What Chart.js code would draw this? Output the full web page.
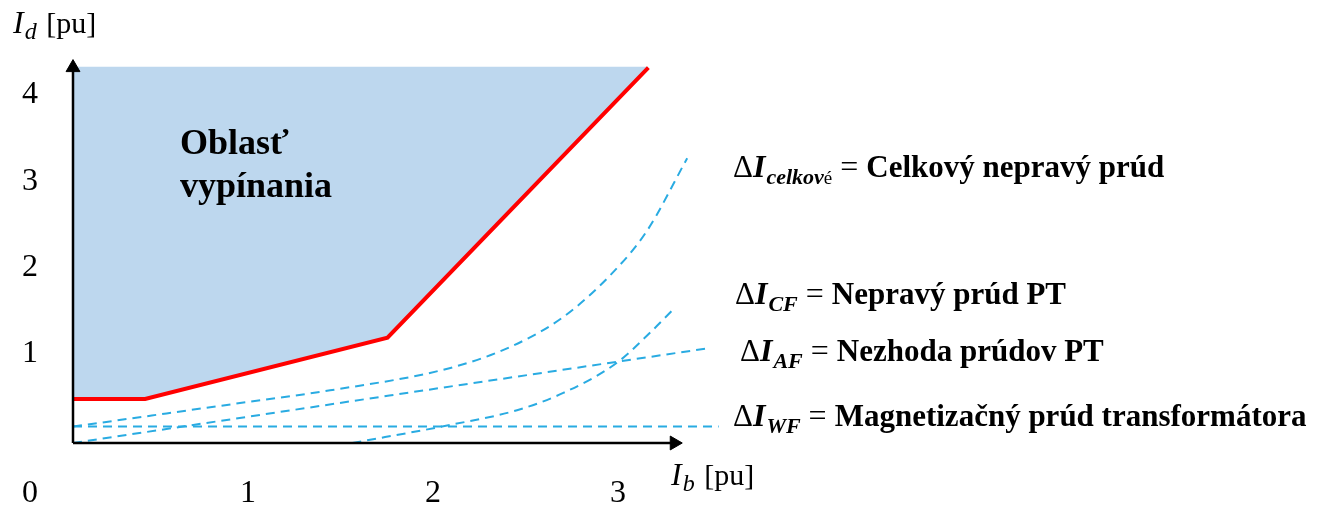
<!DOCTYPE html>
<html>
<head>
<meta charset="utf-8">
<script src="https://cdn.jsdelivr.net/npm/chart.js@4.4.1/dist/chart.umd.min.js"></script>
<style>
  html, body { margin: 0; padding: 0; background: #fff; }
  #wrap { width: 1317px; height: 509px; position: relative; }
</style>
</head>
<body>
<div id="wrap"><canvas id="chart"></canvas></div>
<script>
// tick labels
const xTicks = [1, 2, 3];
const yTicks = [1, 2, 3, 4];

// trip characteristic (Ib -> Id)
const tripX = [0, 0.39, 1.70, 3.11];
const tripY = [0.51, 0.51, 1.22, 4.35];
const tripTop = 4.36;

// false differential currents
const wfX = [0, 3.49];
const wfY = [0.19, 0.19];
const afX = [0, 1.71, 3.44];
const afY = [0, 0.55, 1.10];
const cfX = [1.51, 2.04, 2.40, 2.65, 2.94, 3.12, 3.25];
const cfY = [0, 0.21, 0.38, 0.58, 0.93, 1.28, 1.56];
const totalX = [0, 0.96, 1.39, 2.04, 2.36, 2.65, 2.92, 3.10, 3.32];
const totalY = [0.19, 0.48, 0.61, 0.87, 1.11, 1.46, 1.98, 2.45, 3.30];

// axis arrow ends
const xAxisEnd = 3.25;
const yAxisEnd = 4.35;

// right hand side legend
const legendSubs = ['celkov', 'CF', 'AF', 'WF'];
const legendTexts = ['Celkový nepravý prúd', 'Nepravý prúd PT', 'Nezhoda prúdov PT', 'Magnetizačný prúd transformátora'];

const SERIF = '"Liberation Serif", "Times New Roman", serif';
const BLUE = '#29ABE2';

const pts = (xs, ys) => xs.map((v, i) => ({ x: v, y: ys[i] }));

// draws a sequence of differently styled text pieces one after another
function drawRuns(ctx, x, y, runs) {
  let cx = x;
  runs.forEach(r => {
    ctx.font = r.font;
    ctx.fillText(r.t, cx, y + (r.dy || 0));
    cx += ctx.measureText(r.t).width + (r.gap || 0);
  });
}

const textPlugin = {
  id: 'texts',
  afterDatasetsDraw(chart) {
    const { ctx, scales: { x, y } } = chart;
    const x0 = x.getPixelForValue(0);
    const y0 = y.getPixelForValue(0);
    ctx.save();
    ctx.fillStyle = '#000';

    // tick numbers
    ctx.font = '32px ' + SERIF;
    ctx.textAlign = 'center';
    ctx.textBaseline = 'middle';
    xTicks.forEach(v => ctx.fillText(String(v), x.getPixelForValue(v) - 10, y0 + 51));
    yTicks.forEach(v => ctx.fillText(String(v), x0 - 43, y.getPixelForValue(v) - 3));
    ctx.fillText('0', x0 - 43, y0 + 51);

    ctx.textAlign = 'left';
    ctx.textBaseline = 'alphabetic';

    // axis titles
    const axisTitle = (px, py, sub) => drawRuns(ctx, px, py, [
      { t: 'I', font: 'italic 32px ' + SERIF, gap: 1 },
      { t: sub, font: 'italic 24px ' + SERIF, dy: 6, gap: 2 },
      { t: ' [pu]', font: '30px ' + SERIF }
    ]);
    axisTitle(13, 33, 'd');
    axisTitle(671, 485, 'b');

    // region caption
    ctx.font = 'bold 36px ' + SERIF;
    ctx.fillText('Oblasť', 180, 154);
    ctx.fillText('vypínania', 180, 197);

    // legend lines
    const rows = [
      { x: 733, y: 177 },
      { x: 735, y: 304 },
      { x: 740, y: 361 },
      { x: 733, y: 426 }
    ];
    rows.forEach((p, i) => {
      const runs = [
        { t: 'Δ', font: '31px ' + SERIF },
        { t: 'I', font: 'bold italic 32px ' + SERIF, gap: 1 },
        { t: legendSubs[i], font: 'bold italic 22px ' + SERIF, dy: 7 }
      ];
      if (i === 0) runs.push({ t: 'é', font: '19px ' + SERIF, dy: 7 });
      runs.push({ t: ' = ', font: '32px ' + SERIF });
      runs.push({ t: legendTexts[i], font: 'bold 31px ' + SERIF });
      drawRuns(ctx, p.x, p.y, runs);
    });
    ctx.restore();
  }
};

const dashed = (xs, ys, mono) => ({
  data: pts(xs, ys),
  borderColor: BLUE,
  borderWidth: 2,
  borderDash: [9, 6],
  pointRadius: 0,
  cubicInterpolationMode: mono ? 'monotone' : 'default',
  tension: 0,
  fill: false,
  clip: false,
  order: 2
});

const axisLine = (end, rot) => ({
  data: end,
  borderColor: '#000',
  borderWidth: 2.5,
  pointRadius: [0, 8],
  pointStyle: 'triangle',
  pointRotation: rot,
  pointBackgroundColor: '#000',
  pointBorderColor: '#000',
  pointBorderWidth: 1,
  fill: false,
  clip: false,
  order: 0
});

new Chart(document.getElementById('chart'), {
  type: 'line',
  data: {
    datasets: [
      axisLine([{ x: 0, y: 0 }, { x: 0, y: yAxisEnd }], 0),
      axisLine([{ x: 0, y: 0 }, { x: xAxisEnd, y: 0 }], 90),
      {
        // trip characteristic, tripping area above it
        data: pts(tripX, tripY),
        borderColor: '#FF0000',
        borderWidth: 4,
        backgroundColor: '#BDD7EE',
        pointRadius: 0,
        tension: 0,
        fill: { value: tripTop },
        clip: false,
        order: 1
      },
      dashed(wfX, wfY, false),
      dashed(afX, afY, false),
      dashed(cfX, cfY, true),
      dashed(totalX, totalY, true)
    ]
  },
  options: {
    responsive: true,
    maintainAspectRatio: false,
    animation: false,
    events: [],
    layout: { autoPadding: false, padding: { left: 73, right: 0, top: 0, bottom: 66 } },
    scales: {
      x: { type: 'linear', display: false, min: 0, max: 1244 / 185 },
      y: { type: 'linear', display: false, min: 0, max: 443 / 86.3 }
    },
    plugins: {
      legend: { display: false },
      tooltip: { enabled: false }
    }
  },
  plugins: [textPlugin]
});
</script>
</body>
</html>
